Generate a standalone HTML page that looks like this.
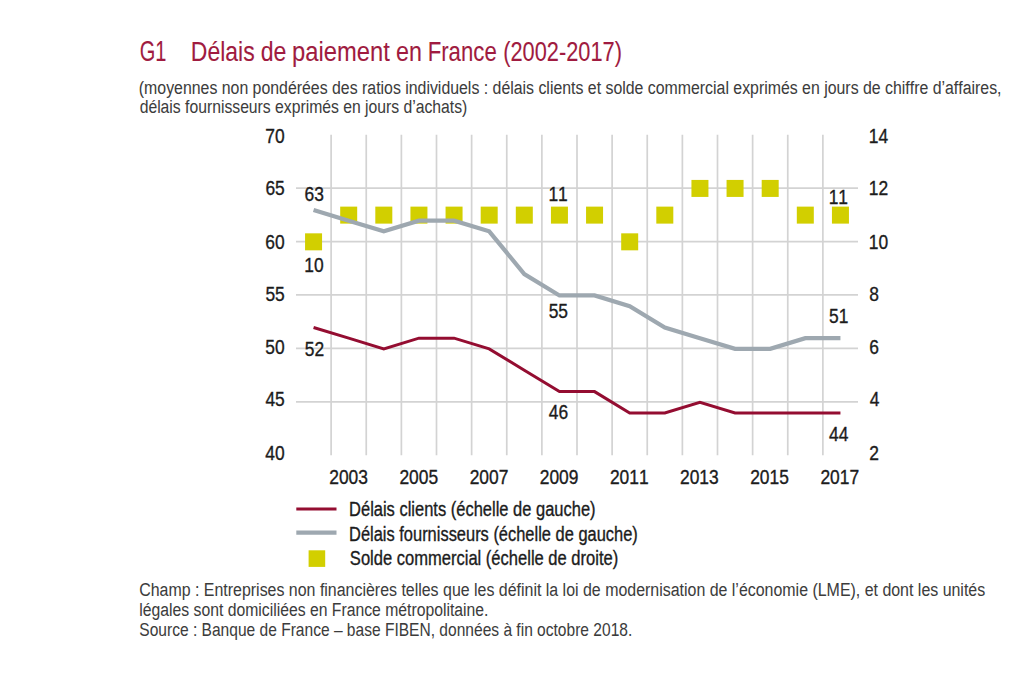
<!DOCTYPE html>
<html><head><meta charset="utf-8"><style>
html,body{margin:0;padding:0;background:#fff;}
svg{display:block;}
text{font-family:"Liberation Sans",sans-serif;font-kerning:none;font-variant-ligatures:none;}
</style></head><body>
<svg width="1024" height="694" viewBox="0 0 1024 694">
<rect width="1024" height="694" fill="#fff"/>
<path d="M331.12 134.70V455.20 M366.25 134.70V455.20 M401.38 134.70V455.20 M436.50 134.70V455.20 M471.62 134.70V455.20 M506.75 134.70V455.20 M541.88 134.70V455.20 M577.00 134.70V455.20 M612.12 134.70V455.20 M647.25 134.70V455.20 M682.38 134.70V455.20 M717.50 134.70V455.20 M752.62 134.70V455.20 M787.75 134.70V455.20 M822.88 134.70V455.20 M296.00 188.12H858.00 M296.00 241.53H858.00 M296.00 294.95H858.00 M296.00 348.37H858.00 M296.00 401.78H858.00" stroke="#d3d3d3" stroke-width="1.7" fill="none"/>
<rect x="305.06" y="233.33" width="17.0" height="17.0" fill="#d2cf00"/>
<rect x="340.19" y="206.62" width="17.0" height="17.0" fill="#d2cf00"/>
<rect x="375.31" y="206.62" width="17.0" height="17.0" fill="#d2cf00"/>
<rect x="410.44" y="206.62" width="17.0" height="17.0" fill="#d2cf00"/>
<rect x="445.56" y="206.62" width="17.0" height="17.0" fill="#d2cf00"/>
<rect x="480.69" y="206.62" width="17.0" height="17.0" fill="#d2cf00"/>
<rect x="515.81" y="206.62" width="17.0" height="17.0" fill="#d2cf00"/>
<rect x="550.94" y="206.62" width="17.0" height="17.0" fill="#d2cf00"/>
<rect x="586.06" y="206.62" width="17.0" height="17.0" fill="#d2cf00"/>
<rect x="621.19" y="233.33" width="17.0" height="17.0" fill="#d2cf00"/>
<rect x="656.31" y="206.62" width="17.0" height="17.0" fill="#d2cf00"/>
<rect x="691.44" y="179.92" width="17.0" height="17.0" fill="#d2cf00"/>
<rect x="726.56" y="179.92" width="17.0" height="17.0" fill="#d2cf00"/>
<rect x="761.69" y="179.92" width="17.0" height="17.0" fill="#d2cf00"/>
<rect x="796.81" y="206.62" width="17.0" height="17.0" fill="#d2cf00"/>
<rect x="831.94" y="206.62" width="17.0" height="17.0" fill="#d2cf00"/>
<polyline points="313.56,209.98 348.69,220.67 383.81,231.35 418.94,220.67 454.06,220.67 489.19,231.35 524.31,274.08 559.44,295.45 594.56,295.45 629.69,306.13 664.81,327.50 699.94,338.18 735.06,348.87 770.19,348.87 805.31,338.18 840.44,338.18" stroke="#9ea8b0" stroke-width="4.2" fill="none" stroke-linejoin="miter"/>
<polyline points="313.56,327.50 348.69,338.18 383.81,348.87 418.94,338.18 454.06,338.18 489.19,348.87 524.31,370.23 559.44,391.60 594.56,391.60 629.69,412.97 664.81,412.97 699.94,402.28 735.06,412.97 770.19,412.97 805.31,412.97 840.44,412.97" stroke="#940d31" stroke-width="3.0" fill="none" stroke-linejoin="miter"/>
<text transform="translate(265.33,142.60) scale(0.8700,1)" font-size="20" fill="#1c1c1c" stroke="#1c1c1c" stroke-width="0.35">70</text>
<text transform="translate(265.38,195.40) scale(0.8700,1)" font-size="20" fill="#1c1c1c" stroke="#1c1c1c" stroke-width="0.35">65</text>
<text transform="translate(265.33,248.60) scale(0.8700,1)" font-size="20" fill="#1c1c1c" stroke="#1c1c1c" stroke-width="0.35">60</text>
<text transform="translate(265.38,301.20) scale(0.8700,1)" font-size="20" fill="#1c1c1c" stroke="#1c1c1c" stroke-width="0.35">55</text>
<text transform="translate(265.33,353.60) scale(0.8700,1)" font-size="20" fill="#1c1c1c" stroke="#1c1c1c" stroke-width="0.35">50</text>
<text transform="translate(265.38,406.20) scale(0.8700,1)" font-size="20" fill="#1c1c1c" stroke="#1c1c1c" stroke-width="0.35">45</text>
<text transform="translate(265.33,459.80) scale(0.8700,1)" font-size="20" fill="#1c1c1c" stroke="#1c1c1c" stroke-width="0.35">40</text>
<text transform="translate(868.77,142.60) scale(0.8700,1)" font-size="20" fill="#1c1c1c" stroke="#1c1c1c" stroke-width="0.35">14</text>
<text transform="translate(868.77,195.40) scale(0.8700,1)" font-size="20" fill="#1c1c1c" stroke="#1c1c1c" stroke-width="0.35">12</text>
<text transform="translate(868.77,248.60) scale(0.8700,1)" font-size="20" fill="#1c1c1c" stroke="#1c1c1c" stroke-width="0.35">10</text>
<text transform="translate(869.34,301.20) scale(0.8700,1)" font-size="20" fill="#1c1c1c" stroke="#1c1c1c" stroke-width="0.35">8</text>
<text transform="translate(869.22,353.60) scale(0.8700,1)" font-size="20" fill="#1c1c1c" stroke="#1c1c1c" stroke-width="0.35">6</text>
<text transform="translate(869.70,406.20) scale(0.8700,1)" font-size="20" fill="#1c1c1c" stroke="#1c1c1c" stroke-width="0.35">4</text>
<text transform="translate(869.22,459.80) scale(0.8700,1)" font-size="20" fill="#1c1c1c" stroke="#1c1c1c" stroke-width="0.35">2</text>
<text transform="translate(329.28,484.40) scale(0.8700,1)" font-size="20" fill="#1c1c1c" stroke="#1c1c1c" stroke-width="0.35">2003</text>
<text transform="translate(399.41,484.40) scale(0.8700,1)" font-size="20" fill="#1c1c1c" stroke="#1c1c1c" stroke-width="0.35">2005</text>
<text transform="translate(469.63,484.40) scale(0.8700,1)" font-size="20" fill="#1c1c1c" stroke="#1c1c1c" stroke-width="0.35">2007</text>
<text transform="translate(539.76,484.40) scale(0.8700,1)" font-size="20" fill="#1c1c1c" stroke="#1c1c1c" stroke-width="0.35">2009</text>
<text transform="translate(609.92,484.40) scale(0.8700,1)" font-size="20" fill="#1c1c1c" stroke="#1c1c1c" stroke-width="0.35">2011</text>
<text transform="translate(680.03,484.40) scale(0.8700,1)" font-size="20" fill="#1c1c1c" stroke="#1c1c1c" stroke-width="0.35">2013</text>
<text transform="translate(750.16,484.40) scale(0.8700,1)" font-size="20" fill="#1c1c1c" stroke="#1c1c1c" stroke-width="0.35">2015</text>
<text transform="translate(820.38,484.40) scale(0.8700,1)" font-size="20" fill="#1c1c1c" stroke="#1c1c1c" stroke-width="0.35">2017</text>
<text transform="translate(304.56,200.50) scale(0.8700,1)" font-size="20" fill="#1c1c1c" stroke="#1c1c1c" stroke-width="0.35">63</text>
<text transform="translate(304.30,272.00) scale(0.8700,1)" font-size="20" fill="#1c1c1c" stroke="#1c1c1c" stroke-width="0.35">10</text>
<text transform="translate(304.71,355.50) scale(0.8700,1)" font-size="20" fill="#1c1c1c" stroke="#1c1c1c" stroke-width="0.35">52</text>
<text transform="translate(548.39,200.90) scale(0.8700,1)" font-size="20" fill="#1c1c1c" stroke="#1c1c1c" stroke-width="0.35">11</text>
<text transform="translate(548.64,317.70) scale(0.8700,1)" font-size="20" fill="#1c1c1c" stroke="#1c1c1c" stroke-width="0.35">55</text>
<text transform="translate(548.81,419.30) scale(0.8700,1)" font-size="20" fill="#1c1c1c" stroke="#1c1c1c" stroke-width="0.35">46</text>
<text transform="translate(828.69,203.80) scale(0.8700,1)" font-size="20" fill="#1c1c1c" stroke="#1c1c1c" stroke-width="0.35">11</text>
<text transform="translate(829.00,322.70) scale(0.8700,1)" font-size="20" fill="#1c1c1c" stroke="#1c1c1c" stroke-width="0.35">51</text>
<text transform="translate(828.98,440.80) scale(0.8700,1)" font-size="20" fill="#1c1c1c" stroke="#1c1c1c" stroke-width="0.35">44</text>
<text transform="translate(139.79,61.00) scale(0.6994,1)" font-size="28.6" fill="#a01b40" stroke="#a01b40" stroke-width="0.1">G1</text>
<text transform="translate(190.82,61.00) scale(0.8058,1)" font-size="28.5" fill="#a01b40" stroke="#a01b40" stroke-width="0.1">Délais</text>
<text transform="translate(260.73,61.00) scale(0.8106,1)" font-size="28.5" fill="#a01b40" stroke="#a01b40" stroke-width="0.1">de</text>
<text transform="translate(292.07,61.00) scale(0.8342,1)" font-size="28.5" fill="#a01b40" stroke="#a01b40" stroke-width="0.1">paiement</text>
<text transform="translate(396.01,61.00) scale(0.8171,1)" font-size="28.5" fill="#a01b40" stroke="#a01b40" stroke-width="0.1">en</text>
<text transform="translate(427.68,61.00) scale(0.7791,1)" font-size="28.5" fill="#a01b40" stroke="#a01b40" stroke-width="0.1">France</text>
<text transform="translate(503.25,61.00) scale(0.7645,1)" font-size="28.5" fill="#a01b40" stroke="#a01b40" stroke-width="0.1">(2002-2017)</text>
<text transform="translate(138.82,93.60) scale(0.8538,1)" font-size="18.6" fill="#3c3c3c" stroke="#3c3c3c" stroke-width="0.05">(moyennes non pondérées des ratios individuels : délais clients et solde commercial exprimés en jours de chiffre d’affaires,</text>
<text transform="translate(139.64,113.10) scale(0.8454,1)" font-size="18.6" fill="#3c3c3c" stroke="#3c3c3c" stroke-width="0.05">délais fournisseurs exprimés en jours d’achats)</text>
<path d="M296.3 509.0H336.5" stroke="#940d31" stroke-width="3"/>
<path d="M296.3 532.6H336.5" stroke="#9ea8b0" stroke-width="4.2"/>
<rect x="308.6" y="550.3" width="16.6" height="16.6" fill="#d2cf00"/>
<text transform="translate(349.05,516.20) scale(0.8328,1)" font-size="19.8" fill="#1c1c1c" stroke="#1c1c1c" stroke-width="0.35">Délais clients (échelle de gauche)</text>
<text transform="translate(349.05,540.60) scale(0.8309,1)" font-size="19.8" fill="#1c1c1c" stroke="#1c1c1c" stroke-width="0.35">Délais fournisseurs (échelle de gauche)</text>
<text transform="translate(349.85,565.10) scale(0.8355,1)" font-size="19.8" fill="#1c1c1c" stroke="#1c1c1c" stroke-width="0.35">Solde commercial (échelle de droite)</text>
<text transform="translate(139.19,596.30) scale(0.8574,1)" font-size="18.6" fill="#3c3c3c" stroke="#3c3c3c" stroke-width="0.05">Champ : Entreprises non financières telles que les définit la loi de modernisation de l’économie (LME), et dont les unités</text>
<text transform="translate(139.34,616.00) scale(0.8472,1)" font-size="18.6" fill="#3c3c3c" stroke="#3c3c3c" stroke-width="0.05">légales sont domiciliées en France métropolitaine.</text>
<text transform="translate(139.29,636.10) scale(0.8369,1)" font-size="18.6" fill="#3c3c3c" stroke="#3c3c3c" stroke-width="0.05">Source : Banque de France – base FIBEN, données à fin octobre 2018.</text>
</svg>
</body></html>
